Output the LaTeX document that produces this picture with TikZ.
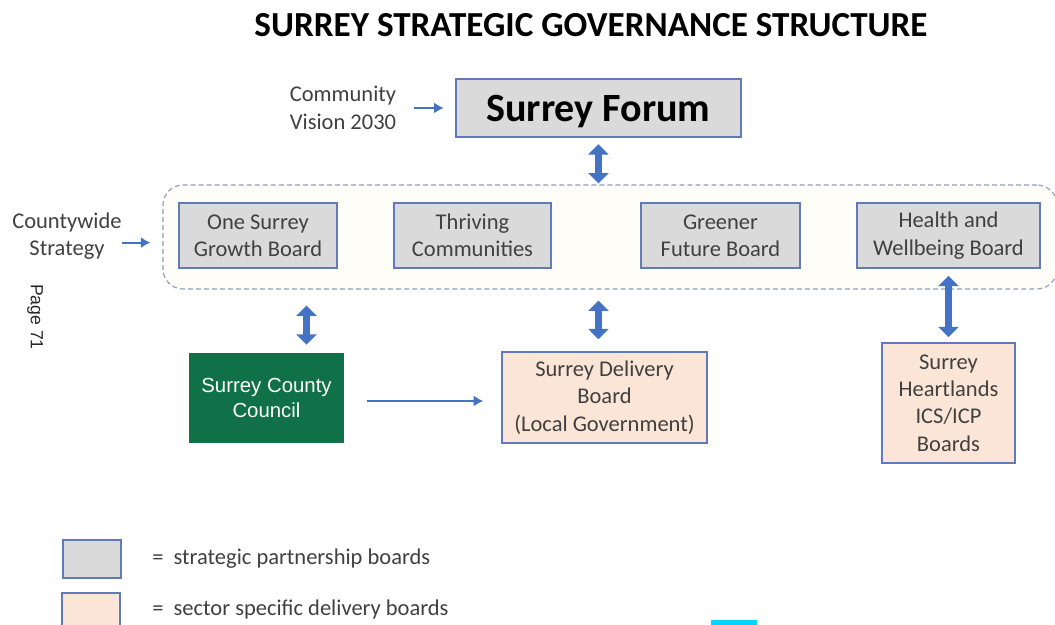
\documentclass[tikz,border=0pt]{standalone}
\usepackage{fontspec}
\setmainfont{Carlito}
\newfontfamily\arialfont{Liberation Sans}
\usetikzlibrary{positioning}
\usetikzlibrary{arrows.meta}
\definecolor{boardblue}{RGB}{96,122,186}
\definecolor{arrowblue}{RGB}{68,114,196}
\definecolor{boardgrey}{RGB}{218,218,218}
\definecolor{peach}{RGB}{251,229,214}
\definecolor{sccgreen}{RGB}{16,112,72}
\definecolor{textgrey}{RGB}{64,64,64}
\definecolor{cream}{RGB}{255,253,248}
\definecolor{dashgrey}{RGB}{143,158,190}
\definecolor{cyanbar}{RGB}{0,214,255}
\newcommand{\boardfont}{\fontsize{16}{19.5}\selectfont}

\begin{document}
\begin{tikzpicture}[
	board/.style={draw=boardblue, line width=1.1pt, align=center, text=textgrey, font=\boardfont, inner sep=0pt},
	partner/.style={board, fill=boardgrey},
	sector/.style={board, fill=peach},
	sidetext/.style={align=center, text=textgrey, font=\boardfont, inner sep=0pt},
	thinarrow/.style={-{Latex[length=2.4mm,width=2.8mm]}, draw=arrowblue, line width=1.4pt},
	twoway/.style={arrows={Triangle[length=2.6mm,width=5mm]-Triangle[length=2.6mm,width=5mm]}, draw=arrowblue, line width=4.5pt}
	]
		\useasboundingbox (0,0) rectangle (26.375,-15.625);

		% Title
		\node[font=\bfseries\fontsize{25}{30}\selectfont] (title) at (14.775,-0.625) {SURREY STRATEGIC GOVERNANCE STRUCTURE};

		% Forum
		\node[draw=boardblue, line width=1.8pt, fill=boardgrey, minimum width=7.125cm, minimum height=1.45cm, text depth=0pt, font=\bfseries\fontsize{28.5}{34}\selectfont] (forum) at (14.96,-2.7) {Surrey Forum};
		\node[sidetext] (vision) at (8.575,-2.7) {Community\\Vision 2030};
		\draw[thinarrow, shorten <=0.45cm, shorten >=0.275cm] (vision.east) -- (forum.west);

		% Partnership boards
		\node[draw=dashgrey, dashed, dash pattern=on 3.5pt off 2.2pt, line width=0.8pt, rounded corners=0.5cm, fill=cream, minimum width=22.35cm, minimum height=2.6cm] (tier) at (15.25,-5.925) {};
		\node[partner, minimum width=3.95cm, minimum height=1.625cm] (grow) at (6.45,-5.8875) {One Surrey\\Growth Board};
		\node[partner, minimum width=3.925cm, minimum height=1.625cm] (thrive) at (11.8125,-5.8875) {Thriving\\Communities};
		\node[partner, minimum width=3.975cm, minimum height=1.625cm] (green) at (18.0125,-5.8875) {Greener\\Future Board};
		\node[partner, minimum width=4.575cm, minimum height=1.625cm] (health) at (23.7125,-5.8875) {Health and\\Wellbeing Board};

		\node[sidetext] (county) at (1.675,-5.9) {Countywide\\Strategy};
		\draw[thinarrow, shorten >=0.3cm] ([yshift=-0.165cm]county.east) -- ([yshift=-0.165cm]county.east -| tier.west);

		\node[rotate=-90, font=\arialfont\fontsize{12.5}{14}\selectfont, text=black!85] (page) at (0.875,-7.925) {Page 71};

		% Delivery level
		\node[fill=sccgreen, minimum width=3.875cm, minimum height=2.25cm, align=center, text=white, font=\arialfont\fontsize{14.5}{18}\selectfont] (scc) at (6.6625,-9.95) {Surrey County\\Council};
		\node[sector, minimum width=5.125cm, minimum height=2.275cm] (deliv) at (15.1125,-9.9375) {Surrey Delivery\\Board\\(Local Government)};
		\node[sector, minimum width=3.325cm, minimum height=3cm] (heart) at (23.7125,-10.075) {Surrey\\Heartlands\\ICS/ICP\\Boards};
		\coordinate (sccup) at ([xshift=1cm]scc.north);

		\draw[twoway, shorten <=0.15cm, shorten >=0.025cm] (forum.south) -- (forum.south |- tier.north);
		\draw[twoway, shorten <=0.4cm, shorten >=0.2cm] (sccup |- tier.south) -- (sccup);
		\draw[twoway, shorten <=0.275cm, shorten >=0.3cm] (forum.south |- tier.south) -- (forum.south |- deliv.north);
		\draw[twoway, shorten <=0.175cm, shorten >=0.125cm] (health.south) -- (heart.north);
		\draw[thinarrow, shorten <=0.575cm, shorten >=0.45cm] ([yshift=-0.075cm]scc.east) -- ([yshift=-0.075cm]scc.east -| deliv.west);

		% Key
		\node[partner, minimum width=1.45cm, minimum height=0.95cm] (keypartner) at (2.3,-13.975) {};
		\node[sidetext, anchor=west] (keypartnertext) at (3.8,-13.975) {=\ \ strategic partnership boards};
		\node[sector, minimum width=1.45cm, minimum height=0.95cm] (keysector) at (2.275,-15.3) {};
		\node[sidetext, anchor=west] (keysectortext) at (3.8,-15.25) {=\ \ sector specific delivery boards};
		\fill[cyanbar] (17.775,-15.5) rectangle (18.925,-15.7);
	\end{tikzpicture}
\end{document}
